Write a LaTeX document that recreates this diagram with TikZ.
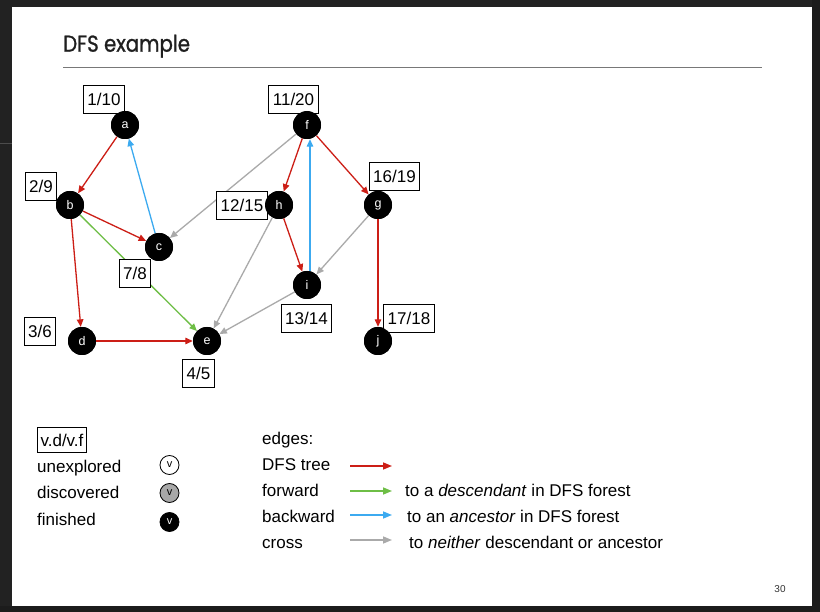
\documentclass[tikz,border=0pt]{standalone}
\usepackage{fontspec}
\setmainfont{Liberation Sans}
\newfontfamily\titlefont[FakeStretch=0.86,FakeBold=1]{Poppins}
\usetikzlibrary{arrows.meta}
\definecolor{treec}{RGB}{204,30,22}
\definecolor{fwdc}{RGB}{110,190,70}
\definecolor{backc}{RGB}{60,170,240}
\definecolor{crossc}{RGB}{170,170,170}
\definecolor{darkbg}{RGB}{34,34,34}
\definecolor{darkbg2}{RGB}{28,28,28}
\definecolor{rulec}{RGB}{120,120,120}
\definecolor{discc}{RGB}{168,168,168}
\begin{document}
\begin{tikzpicture}[x=1pt,y=-1pt,
  vert/.style={circle,fill=black,minimum size=28pt,inner sep=0pt,text=white,font=\fontsize{12.5}{12.5}\selectfont},
  tlabel/.style={draw=black,fill=white,line width=0.8pt,inner xsep=4pt,inner ysep=0pt,minimum height=28pt,font=\fontsize{17}{17}\selectfont},
  legtext/.style={anchor=mid west,inner sep=0pt,font=\fontsize{17}{17}\selectfont},
  legcirc/.style={circle,draw=black,line width=0.8pt,minimum size=19pt,inner sep=0pt,font=\fontsize{11}{11}\selectfont},
  edge/.style={line width=1.3pt,-{Triangle[length=7.5pt,width=6.5pt]}},
  legedge/.style={line width=1.5pt,-{Triangle[length=9pt,width=7pt]}},
  treeedge/.style={edge,draw=treec,color=treec},
  fwdedge/.style={edge,draw=fwdc,color=fwdc},
  backedge/.style={edge,draw=backc,color=backc},
  crossedge/.style={edge,draw=crossc,color=crossc}
]
\useasboundingbox (0,0) rectangle (820,612);
% background
\fill[darkbg] (0,0) rectangle (820,612);
\fill[darkbg2] (812,0) rectangle (820,612);
\fill[darkbg2] (0,606) rectangle (820,612);
\draw[line width=0.8pt,color=black!70] (0,143) -- (12,143);
% slide
\fill[white] (12,7) rectangle (812,606);
% title
\node[anchor=base west,inner sep=0pt,text=black!88,font=\titlefont\fontsize{23}{23}\selectfont] (title) at (63,51.7) {DFS example};
\draw[rulec,line width=1.5pt] (63,67.5) -- (762,67.5);

% vertices
\node[vert] (a) at (125,125) {a};
\node[vert] (f) at (307,125) {f};
\node[vert] (b) at (70,205) {b};
\node[vert] (c) at (159,247) {c};
\node[vert] (h) at (279,205) {h};
\node[vert] (g) at (378,205) {g};
\node[vert] (i) at (307,285) {i};
\node[vert] (d) at (82,341) {d};
\node[vert] (e) at (207,341) {e};
\node[vert] (j) at (378,341) {j};

% edges
\draw[treeedge] (a) -- (b);
\draw[backedge] (c) -- (a);
\draw[treeedge] (b) -- (c);
\draw[fwdedge] (b) -- (e);
\draw[treeedge] (b) -- (d);
\draw[treeedge] (d) -- (e);
\draw[crossedge] (f) -- (c);
\draw[treeedge] (f) -- (h);
\draw[treeedge] (f) -- (g);
\draw[backedge] ([xshift=3pt]i.north) -- ([xshift=3pt]f.south);
\draw[treeedge] (h) -- (i);
\draw[crossedge] (h) -- (e);
\draw[crossedge] (g) -- (i);
\draw[crossedge] (i) -- (e);
\draw[treeedge] (g) -- (j);

% time labels
\node[tlabel] (la) at (104,99) {1/10};
\node[tlabel] (lf) at (293.5,99) {11/20};
\node[tlabel] (lb) at (41,186.5) {2/9};
\node[tlabel] (lg) at (394.5,176) {16/19};
\node[tlabel] (lh) at (242,205) {12/15};
\node[tlabel] (lc) at (135,273) {7/8};
\node[tlabel] (ld) at (40,331.5) {3/6};
\node[tlabel] (le) at (198.5,373) {4/5};
\node[tlabel] (li) at (306.5,318) {13/14};
\node[tlabel] (lj) at (409,318) {17/18};

% redraw vertices on top of labels
\foreach \n/\x/\y in {a/125/125,f/307/125,b/70/205,c/159/247,h/279/205,g/378/205,i/307/285,d/82/341,e/207/341,j/378/341}
  \node[vert] at (\x,\y) {\n};

% legend left
\node[tlabel,inner xsep=3pt,minimum height=25pt] (vdvf) at (62,440) {v.d/v.f};
\node[legtext] (unexp) at (37,470) {unexplored};
\node[legtext] (disc) at (37,496) {discovered};
\node[legtext] (fin) at (37,523) {finished};
\node[legcirc,fill=white] (cu) at (169.5,465) {v};
\node[legcirc,fill=discc] (cd) at (169.5,493) {v};
\node[legcirc,fill=black,text=white] (cf) at (169.5,522) {v};

% legend right
\node[legtext] (edges) at (262,441.5) {edges:};
\node[legtext] (ltree) at (262,468) {DFS tree};
\node[legtext] (lfwd) at (262,494) {forward};
\node[legtext] (lback) at (262,519.5) {backward};
\node[legtext] (lcross) at (262,545.5) {cross};
\coordinate (t1) at (350,466); \coordinate (t2) at (392,466);
\coordinate (f1) at (350,491); \coordinate (f2) at (392,491);
\coordinate (b1) at (350,515); \coordinate (b2) at (392,515);
\coordinate (x1) at (350,540); \coordinate (x2) at (392,540);
\draw[legedge,treec] (t1) -- (t2);
\draw[legedge,fwdc] (f1) -- (f2);
\draw[legedge,backc] (b1) -- (b2);
\draw[legedge,crossc] (x1) -- (x2);
\node[legtext] (dfwd) at (405,494) {to a \textit{descendant} in DFS forest};
\node[legtext] (dback) at (407,519.5) {to an \textit{ancestor} in DFS forest};
\node[legtext] (dcross) at (409,545.5) {to \textit{neither} descendant or ancestor};

% page number
\node[inner sep=0pt,font=\fontsize{10}{10}\selectfont,text=black!80] (pnum) at (780,589) {30};
\end{tikzpicture}
\end{document}
